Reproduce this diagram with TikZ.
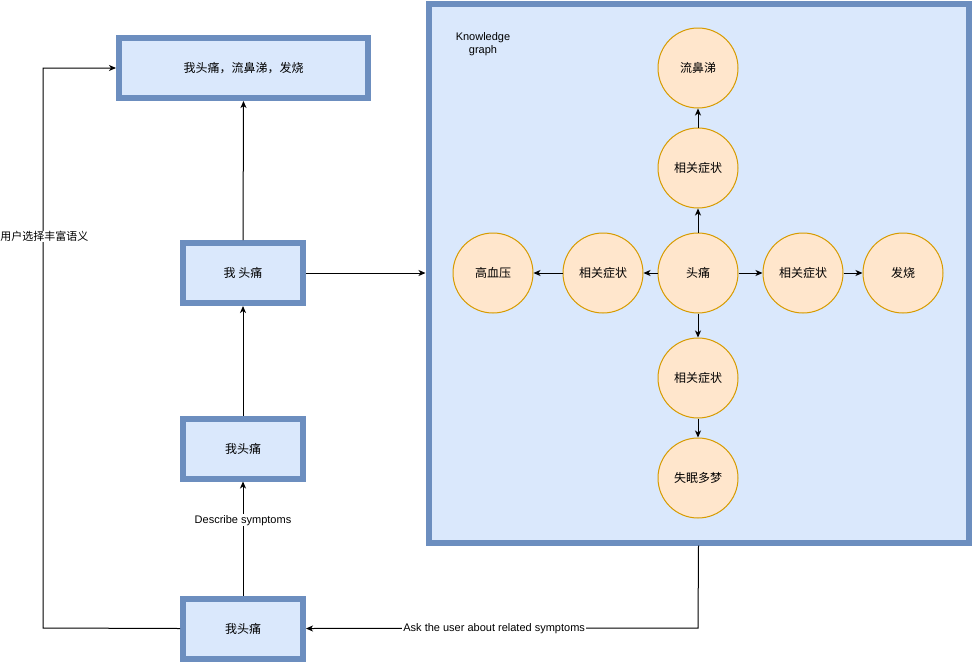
\documentclass[tikz,border=0pt]{standalone}
\usepackage{fontspec}
\setmainfont{Liberation Sans}
\newfontfamily\cjk{Noto Sans CJK SC}
\usetikzlibrary{arrows.meta}
\begin{document}
\begin{tikzpicture}[x=1pt,y=-1pt,
  font=\fontsize{12}{14}\selectfont,
  box/.style={draw=boxline,fill=boxfill,line width=6pt,inner sep=0pt},
  circ/.style={circle,draw=circline,fill=circfill,line width=1pt,minimum size=80pt,inner sep=0pt,font=\cjk\fontsize{12}{14}\selectfont},
  conn/.style={draw=black,line width=1pt,-{Stealth[length=7pt,width=6pt,inset=2pt]}},
  lbl/.style={fill=white,inner sep=1pt,font=\fontsize{11}{13}\selectfont}]
\definecolor{boxline}{HTML}{6C8EBF}
\definecolor{boxfill}{HTML}{DAE8FC}
\definecolor{circline}{HTML}{D79B00}
\definecolor{circfill}{HTML}{FFE6CC}
\useasboundingbox (0,0) rectangle (972,662);
% boxes
\node[box,minimum width=249pt,minimum height=60pt,font=\cjk\fontsize{12}{14}\selectfont] (top) at (243.5,68) {我头痛，流鼻涕，发烧};
\node[box,minimum width=120pt,minimum height=60pt,font=\cjk\fontsize{12}{14}\selectfont] (b1) at (243,273) {我 头痛};
\node[box,minimum width=120pt,minimum height=60pt,font=\cjk\fontsize{12}{14}\selectfont] (b2) at (243,448.5) {我头痛};
\node[box,minimum width=120pt,minimum height=60pt,font=\cjk\fontsize{12}{14}\selectfont] (b3) at (243,628.5) {我头痛};
% knowledge graph container
\node[box,minimum width=540pt,minimum height=539pt] (kg) at (698.5,273) {};
\node[align=center,font=\fontsize{11}{13}\selectfont] (kgl) at (483,44) {Knowledge\\graph};
% circles
\node[circ] (ht) at (698,273) {头痛};
\node[circ] (xu) at (698,168) {相关症状};
\node[circ] (lbt) at (698,68) {流鼻涕};
\node[circ] (xl) at (603,273) {相关症状};
\node[circ] (gxy) at (493,273) {高血压};
\node[circ] (xr) at (803,273) {相关症状};
\node[circ] (fs) at (903,273) {发烧};
\node[circ] (xd) at (698,378) {相关症状};
\node[circ] (smdm) at (698,478) {失眠多梦};
% graph edges
\draw[conn] (ht) -- (xu);
\draw[conn] (xu) -- (lbt);
\draw[conn] (ht) -- (xl);
\draw[conn] (xl) -- (gxy);
\draw[conn] (ht) -- (xr);
\draw[conn] (xr) -- (fs);
\draw[conn] (ht) -- (xd);
\draw[conn] (xd) -- (smdm);
% flow edges
\draw[conn] (b1.north) -- (top.south);
\draw[conn] (b2.north) -- (b1.south);
\draw[conn] (b3.north) -- node[lbl,pos=0.66]{Describe symptoms} (b2.south);
\draw[conn] (b1.east) -- (kg.west);
\coordinate (c1) at (698,628);
\draw[conn] (kg.south) -- (c1) -- node[lbl,pos=0.52]{Ask the user about related symptoms} (b3.east);
\coordinate (c2) at (43,628);
\coordinate (c3) at (43,68);
\draw[conn] (b3.west) -- (c2) -- node[lbl,pos=0.699,xshift=1.5pt,inner sep=0pt,font=\cjk\fontsize{11}{13}\selectfont]{用户选择丰富语义} (c3) -- (top.west);
\end{tikzpicture}
\end{document}
